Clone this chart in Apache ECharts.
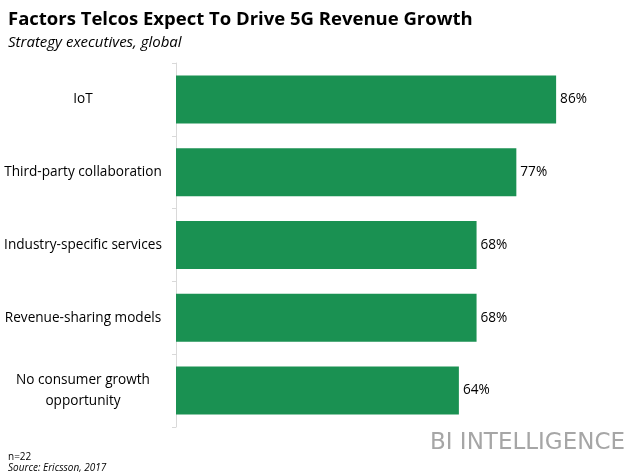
<!DOCTYPE html>
<html><head><meta charset="utf-8">
<script src="https://cdn.jsdelivr.net/npm/echarts@6/dist/echarts.min.js"></script>
<style>html,body{margin:0;padding:0;background:#fff}#c{width:640px;height:473px}</style>
</head><body><div id="c"></div>
<script>
const categories = ["IoT", "Third-party collaboration", "Industry-specific services", "Revenue-sharing models", "No consumer growth\nopportunity"];
const values = [86, 77, 68, 68, 64];
const FONT = "Open Sans";
const chart = echarts.init(document.getElementById('c'));
chart.setOption({
  animation: false,
  backgroundColor: '#fff',
  title: [
    {text: 'Factors Telcos Expect To Drive 5G Revenue Growth', left: 3, top: 5,
     textStyle: {fontFamily: FONT, fontSize: 18.5, fontWeight: 'bold', color: '#000'}},
    {text: 'Strategy executives, global', left: 3, top: 30,
     textStyle: {fontFamily: FONT, fontSize: 15, fontStyle: 'italic', fontWeight: 'normal', color: '#000'}},
    {text: 'n=22', left: 3, top: 447, textStyle: {fontFamily: FONT, fontSize: 10, fontWeight: 'normal', color: '#000'}},
    {text: 'Source: Ericsson, 2017', left: 3, top: 458, textStyle: {fontFamily: FONT, fontSize: 10, fontStyle: 'italic', fontWeight: 'normal', color: '#000'}},
    {text: 'BI INTELLIGENCE', right: 10, top: 427, textStyle: {fontFamily: 'DejaVu Sans', fontSize: 23, fontWeight: 'normal', color: '#a6a6a6'}}
  ],
  grid: {left: 176, right: 22, top: 63, bottom: 46, containLabel: false},
  xAxis: {type: 'value', min: 0, max: 100, show: false},
  yAxis: {type: 'category', data: categories, inverse: true,
    axisLine: {lineStyle: {color: '#d9d9d9'}},
    axisTick: {show: true, length: 4, lineStyle: {color: '#d9d9d9'}},
    axisLabel: {align: 'center', margin: 93, fontFamily: FONT, fontSize: 13.6, color: '#000', lineHeight: 21}
  },
  series: [{type: 'bar', data: values, barCategoryGap: '34%',
    itemStyle: {color: '#1a9152'},
    label: {show: true, position: 'right', distance: 4, formatter: '{c}%', fontFamily: FONT, fontSize: 13.6, color: '#000'}
  }]
});
</script></body></html>
